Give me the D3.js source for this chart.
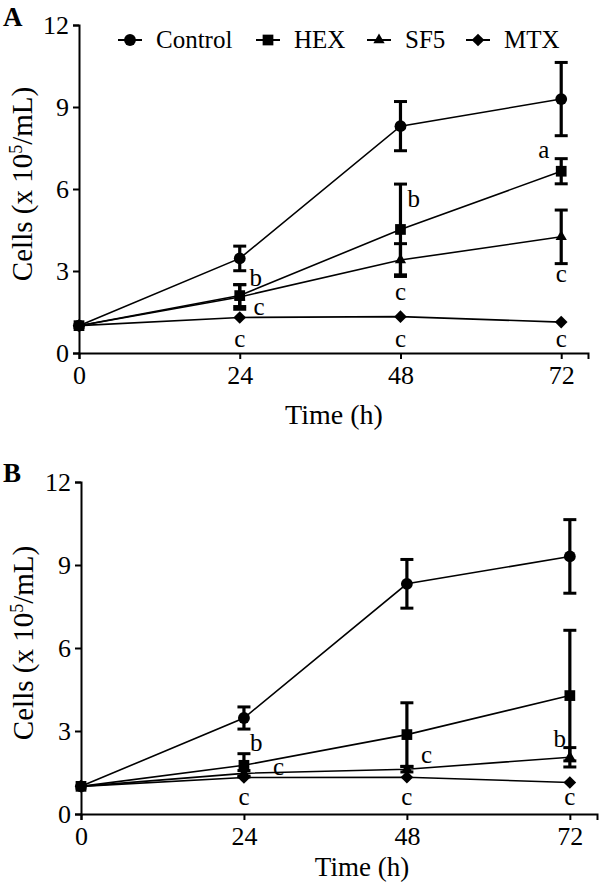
<!DOCTYPE html>
<html>
<head>
<meta charset="utf-8">
<script src="https://cdn.jsdelivr.net/npm/d3@7"></script>
<style>
  html, body { margin: 0; padding: 0; background: #fff; }
  svg { display: block; }
  text { font-family: "Liberation Serif", "Times New Roman", serif; fill: #000; }
</style>
</head>
<body>
<svg id="chart" width="600" height="884"></svg>
<script>
// ---------------- DATA ----------------
const times = [0, 24, 48, 72];
const seriesNames = ["Control", "HEX", "SF5", "MTX"];
const yTicks = [0, 3, 6, 9, 12];

// Panel A
const controlA = [1.0, 3.46, 8.30, 9.29];
const controlA_sd = [0, 0.45, 0.90, 1.34];
const hexA = [1.0, 2.10, 4.52, 6.65];
const hexA_sd = [0, 0.40, 1.66, 0.46];
const sf5A = [1.0, 2.05, 3.40, 4.25];
const sf5A_sd = [0, 0.45, 0.60, 0.98];
const mtxA = [1.0, 1.30, 1.33, 1.13];
const mtxA_sd = [0, 0, 0, 0];

// Panel B
const controlB = [1.0, 3.47, 8.32, 9.31];
const controlB_sd = [0, 0.40, 0.88, 1.33];
const hexB = [1.0, 1.76, 2.87, 4.28];
const hexB_sd = [0, 0.42, 1.15, 2.36];
const sf5B = [1.0, 1.47, 1.62, 2.05];
const sf5B_sd = [0, 0.10, 0.10, 0.35];
const mtxB = [1.0, 1.32, 1.33, 1.14];
const mtxB_sd = [0, 0, 0, 0];

// significance letters (time, value, letter)
const lettersA_t = [26.4, 26.9, 24, 50.0, 48, 48, 69.4, 72, 72];
const lettersA_v = [2.45, 1.39, 0.22, 5.34, 1.94, 0.22, 7.13, 2.60, 0.22];
const lettersA_s = ["b", "c", "c", "b", "c", "c", "a", "c", "c"];

const lettersB_t = [25.8, 29.1, 24, 50.9, 48, 70.5, 72];
const lettersB_v = [2.26, 1.42, 0.34, 1.85, 0.34, 2.43, 0.34];
const lettersB_s = ["b", "c", "c", "c", "c", "b", "c"];

// ---------------- DRAW ----------------
const svg = d3.select("#chart");
const FONT = '"Liberation Serif", "Times New Roman", serif';

function markerPath(name, size) {
  if (name === "Control") return d3.symbol(d3.symbolCircle, size || 110)();
  if (name === "HEX") return d3.symbol(d3.symbolSquare, size || 115)();
  if (name === "SF5") return d3.symbol(d3.symbolTriangle, size || 55)();
  return d3.symbol(d3.symbolSquare, size || 80)();
}
function markerRot(name) { return name === "MTX" ? 45 : 0; }

function panel(cfg) {
  const x = d3.scaleLinear().domain([0, 76]).range(cfg.xr);
  const y = d3.scaleLinear().domain([0, 12]).range(cfg.yr);
  const g = svg.append("g");

  // axes
  const xAxis = d3.axisBottom(x).tickValues(times).tickSize(6).tickPadding(6).tickFormat(d3.format("d"));
  const yAxis = d3.axisLeft(y).tickValues(yTicks).tickSize(6).tickPadding(4).tickFormat(d3.format("d"));
  const gx = g.append("g").attr("transform", `translate(0,${cfg.yr[0]})`).call(xAxis);
  const gy = g.append("g").attr("transform", `translate(${cfg.xr[0]},0)`).call(yAxis);
  [gx, gy].forEach(a => {
    a.attr("font-family", FONT);
    a.select(".domain").attr("stroke", "#000").attr("stroke-width", 2);
    a.selectAll(".tick line").attr("stroke", "#000").attr("stroke-width", 2);
    a.selectAll(".tick text").attr("font-family", FONT).attr("font-size", 26).attr("fill", "#000");
  });
  gx.selectAll(".tick text").attr("dy", "0.72em");

  const series = [
    { name: "Control", v: cfg.control, sd: cfg.control_sd },
    { name: "HEX", v: cfg.hex, sd: cfg.hex_sd },
    { name: "SF5", v: cfg.sf5, sd: cfg.sf5_sd },
    { name: "MTX", v: cfg.mtx, sd: cfg.mtx_sd }
  ];
  const line = d3.line().x((d, i) => x(times[i])).y(d => y(d));

  // lines
  series.slice().reverse().forEach(s => {
    g.append("path").attr("d", line(s.v)).attr("fill", "none")
      .attr("stroke", "#000").attr("stroke-width", 1.6);
  });
  // error bars
  series.forEach(s => {
    s.v.forEach((v, i) => {
      const e = s.sd[i];
      if (!e) return;
      const cx = x(times[i]);
      g.append("line").attr("x1", cx).attr("x2", cx).attr("y1", y(v - e)).attr("y2", y(v + e))
        .attr("stroke", "#000").attr("stroke-width", 3.2);
      [v - e, v + e].forEach(c => {
        g.append("line").attr("x1", cx - 6.5).attr("x2", cx + 6.5).attr("y1", y(c)).attr("y2", y(c))
          .attr("stroke", "#000").attr("stroke-width", 3);
      });
    });
  });
  // markers
  series.slice().reverse().forEach(s => {
    s.v.forEach((v, i) => {
      g.append("path").attr("d", markerPath(s.name))
        .attr("transform", `translate(${x(times[i])},${y(v)}) rotate(${markerRot(s.name)})`)
        .attr("fill", "#000");
    });
  });

  // letters
  cfg.lt.forEach((t, i) => {
    g.append("text").attr("x", x(t)).attr("y", y(cfg.lv[i]))
      .attr("text-anchor", "middle").attr("font-size", 25).text(cfg.ls[i]);
  });

  // axis titles
  g.append("text").attr("x", cfg.xtitle[0]).attr("y", cfg.xtitle[1])
    .attr("text-anchor", "middle").attr("font-size", cfg.xtitleSize).text("Time (h)");
  const yt = g.append("text")
    .attr("transform", `translate(${cfg.ytitleX},${(cfg.yr[0] + cfg.yr[1]) / 2 - 5}) rotate(-90)`)
    .attr("text-anchor", "middle").attr("font-size", 29);
  yt.append("tspan").text("Cells (x 10");
  yt.append("tspan").attr("dy", -10).attr("font-size", 18).text("5");
  yt.append("tspan").attr("dy", 10).text("/mL)");

  // panel letter
  g.append("text").attr("x", 3).attr("y", cfg.letterY).attr("font-size", 27)
    .attr("font-weight", "bold").text(cfg.panelLabel);
}

panel({
  xr: [79, 588], yr: [353, 25],
  control: controlA, control_sd: controlA_sd, hex: hexA, hex_sd: hexA_sd,
  sf5: sf5A, sf5_sd: sf5A_sd, mtx: mtxA, mtx_sd: mtxA_sd,
  lt: lettersA_t, lv: lettersA_v, ls: lettersA_s,
  xtitle: [334, 424], xtitleSize: 28, ytitleX: 32, panelLabel: "A", letterY: 26
});
panel({
  xr: [81, 597], yr: [814, 482],
  control: controlB, control_sd: controlB_sd, hex: hexB, hex_sd: hexB_sd,
  sf5: sf5B, sf5_sd: sf5B_sd, mtx: mtxB, mtx_sd: mtxB_sd,
  lt: lettersB_t, lv: lettersB_v, ls: lettersB_s,
  xtitle: [362, 876], xtitleSize: 27, ytitleX: 33, panelLabel: "B", letterY: 482
});

// legend (panel A)
const legendX = [130, 268, 379, 478];
const leg = svg.append("g");
seriesNames.forEach((n, i) => {
  const cx = legendX[i];
  leg.append("line").attr("x1", cx - 12).attr("x2", cx + 12).attr("y1", 40).attr("y2", 40)
    .attr("stroke", "#000").attr("stroke-width", 2);
  leg.append("path").attr("d", markerPath(n))
    .attr("transform", `translate(${cx},40) rotate(${markerRot(n)})`).attr("fill", "#000");
  leg.append("text").attr("x", cx + 26).attr("y", 48).attr("font-size", 25)
    .attr("font-family", FONT).text(n);
});
</script>
</body>
</html>
